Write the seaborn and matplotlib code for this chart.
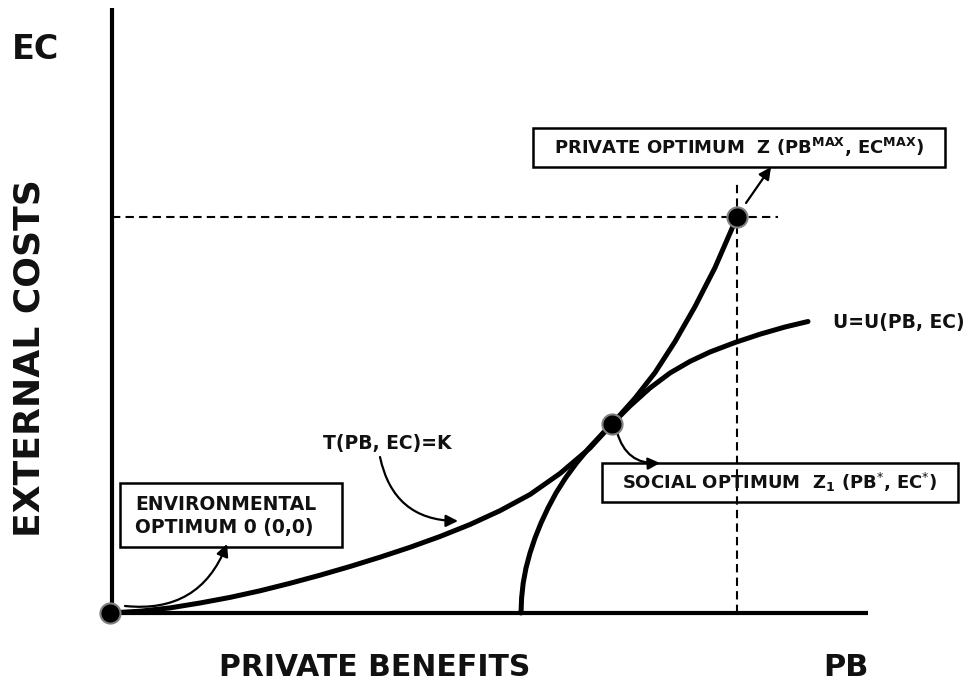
import matplotlib
matplotlib.use("Agg")
import matplotlib.pyplot as plt
from matplotlib.patches import Rectangle
import seaborn as sns

sns.set_theme(style="white")
plt.rcParams['font.family'] = ['DejaVu Sans']
plt.rcParams['mathtext.fontset'] = 'dejavusans'

# transformation curve T(PB, EC)=K  (PB / EC units)
t_pb = [0, 30, 60, 90, 120, 150, 180, 210, 240, 270, 300, 330, 360, 390, 420, 450,
        480, 502, 525, 545, 565, 585, 605, 627]
t_ec = [0, 1.8, 5.1, 10, 15.6, 22.2, 29.7, 37.8, 46.5, 55.8, 65.7, 76.5, 88.5, 102.3,
        118.5, 139.5, 165, 189, 214.8, 240.4, 271.4, 306.4, 345.4, 396]

# indifference curve U=U(PB, EC)
u_pb = [411, 411.6, 413.2, 416, 420, 425, 431, 438, 446, 455.5, 466.5, 479, 493, 502,
        520, 540, 560, 580, 600, 625, 650, 675, 698]
u_ec = [0, 15, 30, 45, 60, 75, 90, 105, 120, 135, 150, 165, 180, 189,
        207, 225, 240, 251.6, 261, 270.5, 278.8, 286, 291.5]

# optimum points: environmental, social, private
opt_pb = [0, 502, 627]
opt_ec = [0, 189, 396]

fig = plt.figure(figsize=(9.68, 6.91), dpi=100)
ax = fig.add_axes([0, 0, 1, 1])
ax.set_xlim(-110, 858)
ax.set_ylim(-78, 613)
ax.axis('off')

# axes
ax.plot([2, 2], [0, 605], color='black', lw=3, solid_capstyle='butt')
ax.plot([0, 758], [0, 0], color='black', lw=3, solid_capstyle='butt')

# dashed guides to the private optimum
ax.plot([2, 668], [opt_ec[2], opt_ec[2]], color='black', lw=1.5, dashes=(4, 2.5))
ax.plot([opt_pb[2], opt_pb[2]], [0, 433], color='black', lw=1.5, dashes=(4, 2.5))

# curves
sns.lineplot(x=t_pb, y=t_ec, sort=False, estimator=None, color='black', lw=3.6, ax=ax)
sns.lineplot(x=u_pb, y=u_ec, sort=False, estimator=None, color='black', lw=3.6, ax=ax)

sns.scatterplot(x=opt_pb, y=opt_ec, s=210, color='black', edgecolor='#808080',
                linewidth=1.5, zorder=5, ax=ax)

bold = dict(fontweight='bold', color='#111111')

# axis titles
ax.text(-74, 564, "EC", fontsize=24, ha='center', va='center', **bold)
ax.text(-80, 255, "EXTERNAL COSTS", fontsize=26, rotation=90, ha='center', va='center', **bold)
ax.text(265, -55, "PRIVATE BENEFITS", fontsize=21.5, ha='center', va='center', **bold)
ax.text(736, -55, "PB", fontsize=22, ha='center', va='center', **bold)

# curve labels
ax.text(723, 291, "U=U(PB, EC)", fontsize=13.5, ha='left', va='center', **bold)
ax.text(277, 170, "T(PB, EC)=K", fontsize=13.5, ha='center', va='center', **bold)

# boxes
box_kw = dict(fill=False, edgecolor='black', lw=1.8, zorder=4)
ax.add_patch(Rectangle((423, 446), 412, 39, **box_kw))
ax.text(629, 466, r"PRIVATE OPTIMUM  Z (PB$^{\mathbf{MAX}}$, EC$^{\mathbf{MAX}}$)",
        fontsize=13, ha='center', va='center', zorder=6, **bold)

ax.add_patch(Rectangle((492, 111), 356, 39, **box_kw))
ax.text(670, 131, r"SOCIAL OPTIMUM  Z$_{\mathbf{1}}$ (PB$^{*}$, EC$^{*}$)",
        fontsize=13, ha='center', va='center', zorder=6, **bold)

ax.add_patch(Rectangle((10, 66), 222, 64, **box_kw))
ax.text(25, 97, "ENVIRONMENTAL\nOPTIMUM 0 (0,0)", fontsize=13.5, ha='left', va='center',
        linespacing=1.3, zorder=6, **bold)

# arrows
arr = dict(arrowstyle='-|>', color='black', lw=1.6, mutation_scale=18, shrinkA=0, shrinkB=0)
ax.annotate("", xy=(348, 92), xytext=(270, 156),
            arrowprops=dict(connectionstyle="arc3,rad=0.4", **arr))
ax.annotate("", xy=(117, 69), xytext=(15, 7),
            arrowprops=dict(connectionstyle="arc3,rad=0.38", **arr))
ax.annotate("", xy=(550, 150), xytext=(507, 181),
            arrowprops=dict(connectionstyle="arc3,rad=0.4", **arr))
ax.annotate("", xy=(661, 446), xytext=(636, 410),
            arrowprops=dict(connectionstyle="arc3,rad=0", **arr))

fig.savefig("out.png", dpi=100, facecolor='white')
